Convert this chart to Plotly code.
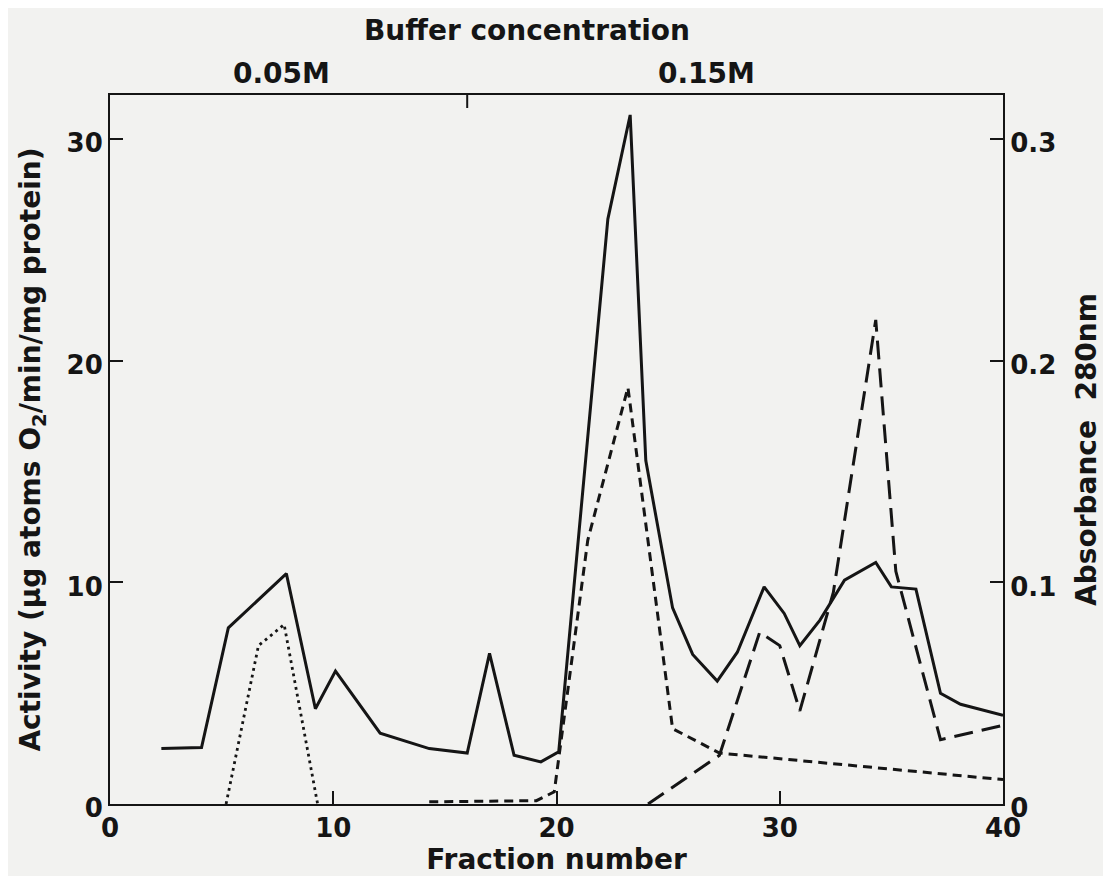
import plotly.graph_objects as go

# ---- data ----
activity_fraction = [2.3, 4.1, 5.3, 7.9, 9.2, 10.1, 12.1, 14.3, 16.0, 17.0, 18.1, 19.3, 20.1,
                     22.3, 23.3, 24.0, 25.2, 26.1, 27.2, 28.1, 29.3, 30.2, 30.9, 31.8, 32.9,
                     34.3, 35.0, 36.1, 37.2, 38.1, 40.0]
activity = [2.5, 2.55, 7.95, 10.4, 4.3, 6.0, 3.2, 2.5, 2.3, 6.8, 2.2, 1.9, 2.35,
            26.4, 31.1, 15.5, 8.85, 6.75, 5.55, 6.85, 9.8, 8.6, 7.15, 8.3, 10.1,
            10.9, 9.8, 9.7, 5.0, 4.5, 4.0]

dotted_fraction = [5.2, 6.65, 7.2, 7.8, 9.3]
dotted_activity = [0, 7.15, 7.6, 8.1, 0]

absorbance_fraction = [14.3, 19.1, 19.9, 21.4, 23.2, 25.2, 27.3, 40.0]
absorbance = [0.001, 0.0015, 0.0055, 0.119, 0.188, 0.034, 0.023, 0.011]

longdash_fraction = [24.1, 27.3, 29.1, 30.0, 30.9, 32.4, 34.3, 35.2, 37.2, 40.0]
longdash_activity = [0, 2.2, 7.75, 7.15, 4.2, 9.55, 21.85, 10.5, 2.9, 3.55]

x_ticks = [0, 10, 20, 30, 40]
y_ticks = [0, 10, 20, 30]
y2_ticks = [0, 0.1, 0.2, 0.3]
y2_ticktext = ["0", "0.1", "0.2", "0.3"]

buffer_change = 16
buffer_title_pos = 18.7
buffer_labels = ["0.05M", "0.15M"]
buffer_label_pos = [7.7, 26.7]

INK = "#151515"
PAPER = "#f2f2f0"
TICKFONT = dict(family="DejaVu Sans", size=26, color=INK, weight="bold")
FONT = dict(family="DejaVu Sans", size=28, color=INK, weight="bold")

fig = go.Figure()
fig.add_trace(go.Scatter(x=activity_fraction, y=activity, mode="lines", name="Activity",
                         line=dict(color=INK, width=3)))
fig.add_trace(go.Scatter(x=dotted_fraction, y=dotted_activity, mode="lines", name="dotted",
                         line=dict(color=INK, width=2.8, dash="2.8px,4px")))
fig.add_trace(go.Scatter(x=longdash_fraction, y=longdash_activity, mode="lines", name="long dash",
                         line=dict(color=INK, width=3, dash="19px,9px")))
fig.add_trace(go.Scatter(x=absorbance_fraction, y=absorbance, mode="lines", name="Absorbance 280nm",
                         yaxis="y2", line=dict(color=INK, width=3, dash="9px,6px")))

# the page adds an 8px body margin, so the figure is sized and offset for it
fig.update_layout(
    width=1095, height=868,
    margin=dict(l=102, r=100, t=87, b=72, autoexpand=False),
    paper_bgcolor=PAPER, plot_bgcolor=PAPER,
    showlegend=False,
    font=FONT,
    xaxis=dict(range=[0, 40], tickvals=x_ticks, ticks="inside", ticklen=13, tickwidth=2,
               tickcolor=INK, showline=True, linecolor=INK, linewidth=2, mirror=True,
               showgrid=False, zeroline=False, tickfont=TICKFONT, automargin=False,
               title=dict(text="Fraction number", font=FONT, standoff=13)),
    yaxis=dict(range=[0, 32], tickvals=y_ticks, ticks="inside", ticklen=13, tickwidth=2,
               tickcolor=INK, showline=True, linecolor=INK, linewidth=2,
               showgrid=False, zeroline=False, tickfont=TICKFONT, automargin=False,
               ticklabelshift=4,
               title=dict(text="Activity (µg atoms O<sub>2</sub>/min/mg protein)", font=FONT,
                          standoff=18)),
    yaxis2=dict(range=[0, 0.32], tickvals=y2_ticks, ticktext=y2_ticktext, overlaying="y",
                side="right", ticks="inside", ticklen=13, tickwidth=2, tickcolor=INK,
                showline=True, linecolor=INK, linewidth=2, showgrid=False, zeroline=False,
                tickfont=TICKFONT, automargin=False, ticklabelshift=4,
                title=dict(text="Absorbance  280nm", font=FONT, standoff=22)),
)

# buffer change marker on the top axis
fig.add_shape(type="line", xref="x", yref="paper", x0=buffer_change, x1=buffer_change,
              y0=1, y1=1 - 13 / 709, line=dict(color=INK, width=2))

fig.add_annotation(x=buffer_title_pos, xref="x", y=1, yref="paper", yshift=65,
                   yanchor="middle", text="Buffer concentration", showarrow=False, font=FONT)
for lbl, pos in zip(buffer_labels, buffer_label_pos):
    fig.add_annotation(x=pos, xref="x", y=1, yref="paper", yshift=22, yanchor="middle",
                       text=lbl, showarrow=False, font=FONT)

fig.write_html("out.html")
